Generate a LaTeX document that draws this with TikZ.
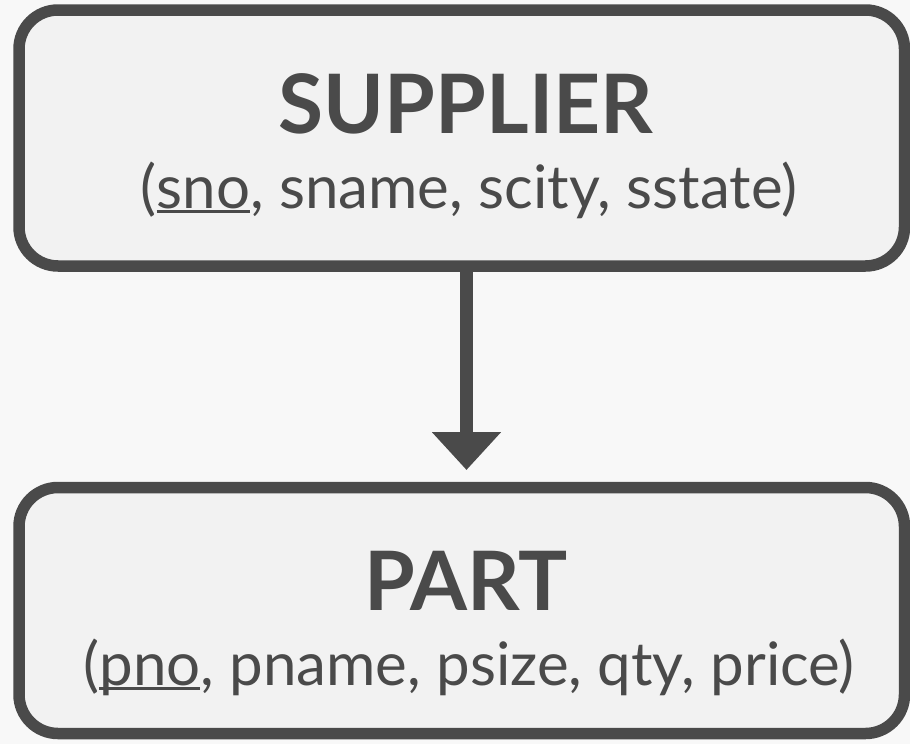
\documentclass[tikz,border=0pt]{standalone}
\usepackage{fontspec}
\setmainfont{Lato}
\usepackage{tikz}
\usetikzlibrary{arrows.meta}

\definecolor{ink}{HTML}{4A4A4A}
\definecolor{boxfill}{HTML}{F2F2F2}
\definecolor{pagebg}{HTML}{F8F8F8}

\newcommand\keyfield[1]{\setbox0\hbox{#1}\rlap{\rule[-5pt]{\wd0}{2.8pt}}\box0}

\begin{document}
\begin{tikzpicture}[x=1pt,y=-1pt,
  entity/.style={draw=ink, fill=boxfill, line width=11.5pt, rounded corners=39pt,
    minimum width=885.5pt, inner sep=0pt},
  title/.style={anchor=base, text=ink, font=\fontsize{82}{90}\selectfont\bfseries},
  attrs/.style={anchor=base, text=ink, font=\fontsize{60}{66}\selectfont}]
\fill[pagebg] (0,0) rectangle (910,744);
\useasboundingbox (0,0) rectangle (910,744);

\node[entity, minimum height=256pt] (supplier) at (461.75,138) {};
\node[title] (suppliername) at (466,133) {SUPPLIER};
\node[attrs] (supplierattrs) at (469,208) {(\keyfield{sno}, sname, scity, sstate)};

\node[entity, minimum height=246pt] (part) at (461.75,610.5) {};
\node[title] (partname) at (466,610) {PART};
\node[attrs] (partattrs) at (469,685) {(\keyfield{pno}, pname, psize, qty, price)};

\draw[ink, line width=13pt, -{Triangle[width=67pt,length=38pt]}, shorten >=11.75pt]
  (supplier.south -| 466.5,0) -- (part.north -| 466.5,0);
\end{tikzpicture}
\end{document}
